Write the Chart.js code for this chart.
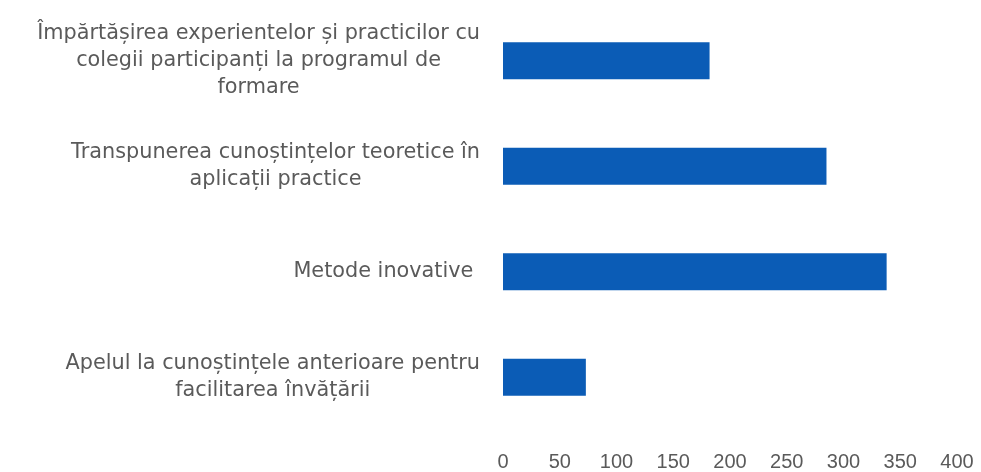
<!DOCTYPE html>
<html lang="ro">
<head>
    <meta charset="UTF-8">
    <script src="https://cdn.jsdelivr.net/npm/chart.js"></script>
    <title>Metode utilizate</title>
    <style>
        html, body {
            margin: 0;
            background: #fff;
            overflow: hidden;
        }

        #wrap {
            width: 981px;
            height: 472px;
        }

        #chart {
            display: block;
        }
    </style>
</head>
<body>
    <div id="wrap"><canvas id="chart"></canvas></div>
<script>
    // categories, top to bottom, one entry per line
    const categories = [
        ['Împărtășirea experientelor și practicilor cu', 'colegii participanți la programul de', 'formare'],
        ['Transpunerea cunoștințelor teoretice în', 'aplicații practice'],
        ['Metode inovative '],
        ['Apelul la cunoștințele anterioare pentru', 'facilitarea învățării']
    ];
    const values = [182, 285, 338, 73];
    const xMin = 0;
    const xMax = 400;
    const xStep = 50;

    const labelFont = '20.8px "DejaVu Sans", sans-serif';
    const lineHeight = 27;
    const textColor = '#5a5a5a';
    const barColor = '#0b5cb6';

    // y labels: each block right-aligned, lines centered inside the block
    const blockLabels = {
        id: 'blockLabels',
        afterDraw(chart) {
            const ctx = chart.ctx;
            const y = chart.scales.y;
            ctx.save();
            ctx.font = labelFont;
            ctx.fillStyle = textColor;
            ctx.textAlign = 'center';
            ctx.textBaseline = 'middle';
            categories.forEach((lines, i) => {
                const blockW = Math.max(...lines.map(l => ctx.measureText(l).width));
                const cx = y.right - 23 - blockW / 2;
                const cy = y.getPixelForTick(i);
                const top = cy - (lines.length - 1) * lineHeight / 2;
                lines.forEach((l, j) => ctx.fillText(l, cx, top + j * lineHeight));
            });
            ctx.restore();
        }
    };

    new Chart(document.getElementById('chart'), {
        type: 'bar',
        data: {
            labels: categories,
            datasets: [{
                data: values,
                backgroundColor: barColor,
                barPercentage: 0.35,
                categoryPercentage: 1
            }]
        },
        options: {
            indexAxis: 'y',
            responsive: true,
            maintainAspectRatio: false,
            animation: false,
            layout: {padding: {top: 8, right: 24, left: 0, bottom: 0}},
            plugins: {
                legend: {display: false},
                tooltip: {enabled: false}
            },
            scales: {
                x: {
                    min: xMin,
                    max: xMax,
                    // tick marks are hidden; tickLength only pushes the labels down
                    grid: {display: false, drawTicks: true, tickLength: 20},
                    border: {display: false},
                    ticks: {
                        stepSize: xStep,
                        padding: 0,
                        color: textColor,
                        font: {family: '"Liberation Sans", Arial, sans-serif', size: 20}
                    },
                    afterFit: s => { s.height = 42; }
                },
                y: {
                    grid: {display: false, drawTicks: false},
                    border: {display: false},
                    ticks: {display: false},
                    afterFit: s => { s.width = 503; }
                }
            }
        },
        plugins: [blockLabels]
    });
</script>
</body>
</html>
